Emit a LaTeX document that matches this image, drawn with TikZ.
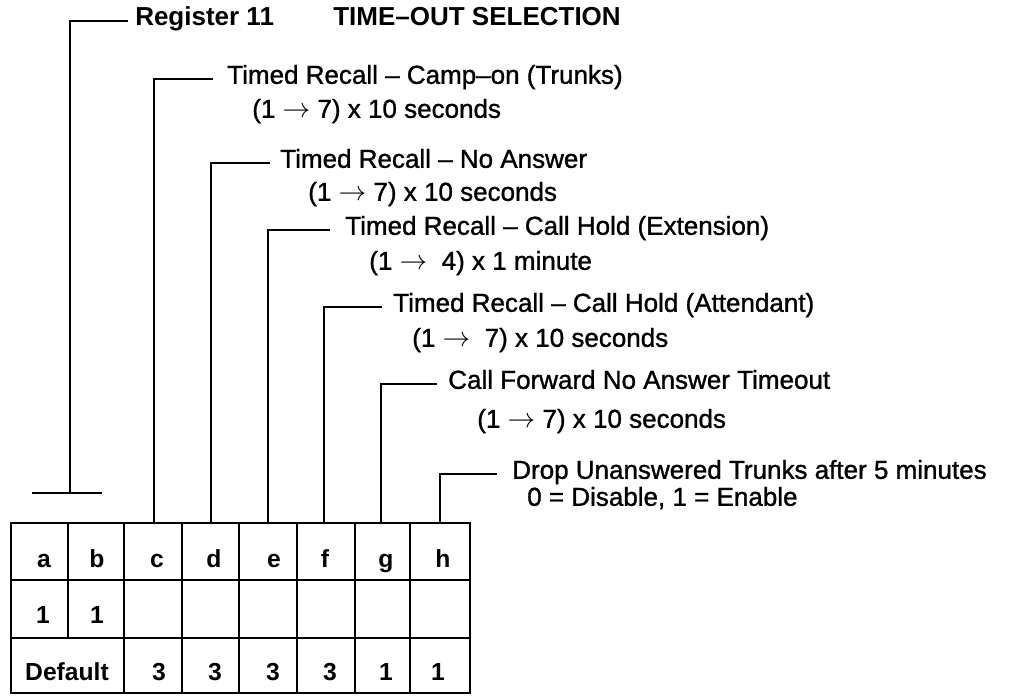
\documentclass[tikz,border=0pt]{standalone}
\usepackage{fontspec}
\setmainfont{Liberation Sans}
\newfontfamily\medfont{Liberation Sans}[FakeBold=1.2]
\begin{document}
\begin{tikzpicture}[x=0.75pt,y=-0.75pt,
  ln/.style={line width=2.2pt},
  lbl/.style={anchor=west,inner xsep=#1,inner ysep=0pt,text height=0.72em,text depth=0pt,font=\fontsize{19.5}{22}\selectfont\medfont},
  lbl/.default=8pt,
  hdr/.style={lbl=#1,font=\fontsize{19.5}{22}\selectfont\bfseries},
  sub/.style={anchor=west,inner sep=0pt,text height=0.72em,text depth=0pt,font=\fontsize{19.5}{22}\selectfont\medfont},
  cell/.style={anchor=base,inner sep=0pt,font=\fontsize{18.5}{20}\selectfont\bfseries}]
\useasboundingbox (0,0) rectangle (1016,696);

% table grid
\draw[ln] (11,523) rectangle (470,693);
\draw[ln] (11,580) -- (470,580);
\draw[ln] (11,638) -- (470,638);
\foreach \x in {124,182,239,297,355,410} \draw[ln] (\x,523) -- (\x,693);
\draw[ln] (68,523) -- (68,638);

% header texts
\node[hdr=5.25pt] (reg) at (128,21) {Register 11};
\node[sub,font=\fontsize{19.5}{22}\selectfont\bfseries] (title) at (333,21) {TIME–OUT SELECTION};

% field labels
\node[lbl=10.5pt] (c1) at (213,79) {Timed Recall – Camp–on (Trunks)};
\node[sub] (c2) at (252,113) {(1 $\rightarrow$ 7) x 10 seconds};
\node[lbl=7.5pt] (d1) at (270,163) {Timed Recall – No Answer};
\node[sub] (d2) at (308,196) {(1 $\rightarrow$ 7) x 10 seconds};
\node[lbl=11.25pt] (e1) at (330,230) {Timed Recall – Call Hold (Extension)};
\node[sub] (e2) at (369,265) {(1 $\rightarrow$\ \ 4) x 1 minute};
\node[lbl=8.25pt] (f1) at (382,307) {Timed Recall – Call Hold (Attendant)};
\node[sub] (f2) at (412,342) {(1 $\rightarrow$\ \ 7) x 10 seconds};
\node[lbl=8.25pt] (g1) at (437,384) {Call Forward No Answer Timeout};
\node[sub] (g2) at (477,423) {(1 $\rightarrow$ 7) x 10 seconds};
\node[lbl=11.25pt] (h1) at (497,474) {Drop Unanswered Trunks after 5 minutes};
\node[sub] (h2) at (527,501) {0 = Disable, 1 = Enable};

% leader anchors
\coordinate (abTop) at (70,493);
\coordinate (barL) at (32,493);
\coordinate (barR) at (102,493);
\coordinate (cTop) at (154,523);
\coordinate (dTop) at (211,523);
\coordinate (eTop) at (268,523);
\coordinate (fTop) at (324,523);
\coordinate (gTop) at (381,523);
\coordinate (hTop) at (440,523);

\draw[ln] (barL) -- (barR);
\draw[ln] (abTop) |- (reg.west);
\draw[ln] (cTop) |- (c1.west);
\draw[ln] (dTop) |- (d1.west);
\draw[ln] (eTop) |- (e1.west);
\draw[ln] (fTop) |- (f1.west);
\draw[ln] (gTop) |- (g1.west);
\draw[ln] (hTop) |- (h1.west);

% table contents
\node[cell] (ca) at (44,567) {a};
\node[cell] (cb) at (97,567) {b};
\node[cell] (cc) at (157,567) {c};
\node[cell] (cd) at (214,567) {d};
\node[cell] (ce) at (274,567) {e};
\node[cell] (cf) at (325,567) {f};
\node[cell] (cg) at (386,567) {g};
\node[cell] (ch) at (443,567) {h};
\node[cell] (va) at (43,623) {1};
\node[cell] (vb) at (97,623) {1};
\node[cell] (dab) at (67,680) {Default};
\node[cell] (dc) at (159,680) {3};
\node[cell] (dd) at (215,680) {3};
\node[cell] (de) at (273,680) {3};
\node[cell] (df) at (330,680) {3};
\node[cell] (dg) at (386,680) {1};
\node[cell] (dh) at (438,680) {1};
\end{tikzpicture}
\end{document}
